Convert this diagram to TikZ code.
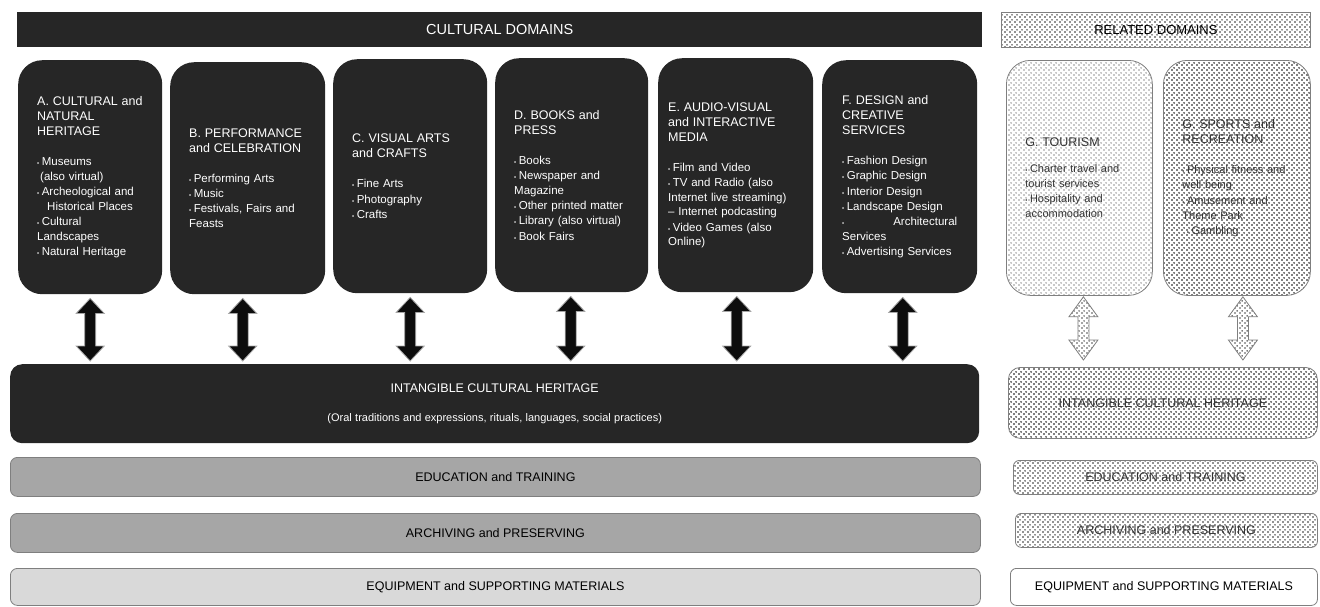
\documentclass[tikz,border=0pt]{standalone}
\usepackage{fontspec}
\setmainfont{Liberation Sans}
\usetikzlibrary{patterns,calc}
\definecolor{boxblack}{HTML}{262626}
\definecolor{arrblack}{HTML}{0D0D0D}
\definecolor{bargray}{HTML}{A6A6A6}
\definecolor{barlight}{HTML}{D9D9D9}
\definecolor{edgegray}{HTML}{7F7F7F}
\definecolor{reltext}{HTML}{333333}
\pgfdeclarepatternformonly{reldots}{\pgfpointorigin}{\pgfqpoint{4.5pt}{4.5pt}}{\pgfqpoint{4.5pt}{4.5pt}}{%
  \pgfpathcircle{\pgfqpoint{1.125pt}{1.125pt}}{0.9pt}%
  \pgfpathcircle{\pgfqpoint{3.375pt}{3.375pt}}{0.9pt}%
  \pgfusepath{fill}}
\newcommand\titlef{\fontsize{12.5}{15}\selectfont}
\newcommand\bodyf{\fontsize{11.5}{14.7}\selectfont}
\newcommand\relbodyf{\fontsize{11}{15}\selectfont}
\newcommand\barf{\fontsize{12.5}{15}\selectfont}
\newcommand\bul{\kern0.5pt{\fontsize{6}{6}\selectfont •}\kern2.5pt}
% #1 top tip, #2 bottom tip, #3 style, #4 head half width, #5 shaft half width, #6 head length
\newcommand\dblarr[6]{%
  \draw[#3] (#1) -- ++(#4,#6) -- ++({-(#4)+(#5)},0) -- ($(#2)+(#5,-#6)$)
    -- ++({(#4)-(#5)},0) -- (#2) -- ++(-#4,-#6) -- ++({(#4)-(#5)},0)
    -- ($(#1)+(-#5,#6)$) -- ++({-(#4)+(#5)},0) -- cycle;}
\begin{document}
\begin{tikzpicture}[x=1pt,y=-1pt,
  dom/.style={fill=boxblack, rounded corners=24pt, text=white, align=left,
    anchor=north west, inner ysep=0pt, font=\bodyf},
  rel/.style={preaction={fill=white}, pattern=reldots, draw=edgegray,
    line width=0.8pt, rounded corners=24pt, text=reltext, align=left,
    anchor=north west, inner ysep=0pt, font=\relbodyf},
  bar/.style={draw=edgegray, line width=0.8pt, rounded corners=7pt,
    anchor=north west, inner sep=0pt, font=\barf, text=black},
  relbar/.style={bar, preaction={fill=white}, pattern=reldots,
    pattern color=black!85, text=reltext},
  solidarr/.style={fill=arrblack, draw=gray!70, line width=0.8pt},
  hollowarr/.style={preaction={fill=white}, pattern=reldots,
    pattern color=black!70, draw=edgegray, line width=0.8pt}]
\useasboundingbox (0,0) rectangle (1320,606);

% headers
\node[fill=boxblack, anchor=north west, minimum width=965pt, minimum height=35pt,
  inner sep=0pt, text=white, font=\fontsize{14.5}{17}\selectfont] (cd) at (17,12) {CULTURAL DOMAINS};
\node[preaction={fill=white}, pattern=reldots, pattern color=black!85,
  draw=edgegray, line width=0.8pt, anchor=north west, minimum width=309pt,
  minimum height=35pt, inner sep=0pt, text=black,
  font=\fontsize{13}{15}\selectfont] (rd) at (1001,12) {RELATED DOMAINS};

% cultural domain boxes
\node[dom, text width=106pt, inner xsep=19pt, minimum height=234pt] (A) at (18,60)
 {{\titlef A. CULTURAL and\\NATURAL\\HERITAGE\par}\vspace{15pt}
  \bul Museums\\
  \hspace*{3pt}(also virtual)\\
  \bul Archeological and\\
  \hspace*{10pt}Historical Places\\
  \bul Cultural\\
  Landscapes\\
  \bul Natural Heritage\par};
\node[dom, text width=117pt, inner xsep=19pt, minimum height=232pt] (B) at (170,62)
 {{\titlef B. PERFORMANCE\\and CELEBRATION\par}\vspace{15pt}
  \bul Performing Arts\\
  \bul Music\\
  \bul Festivals, Fairs and\\
  Feasts\par};
\node[dom, text width=116pt, inner xsep=19pt, minimum height=234pt] (C) at (333,59)
 {{\titlef C. VISUAL ARTS\\and CRAFTS\par}\vspace{15pt}
  \bul Fine Arts\\
  \bul Photography\\
  \bul Crafts\par};
\node[dom, text width=115pt, inner xsep=19pt, minimum height=234pt] (D) at (495,58)
 {{\titlef D. BOOKS and\\PRESS\par}\vspace{15pt}
  \bul Books\\
  \bul Newspaper and\\
  Magazine\\
  \bul Other printed matter\\
  \bul Library (also virtual)\\
  \bul Book Fairs\par};
\node[dom, text width=135pt, inner xsep=10pt, minimum height=234pt] (E) at (658,58)
 {{\titlef E. AUDIO-VISUAL\\and INTERACTIVE\\MEDIA\par}\vspace{15pt}
  \bul Film and Video\\
  \bul TV and Radio (also\\
  Internet live streaming)\\
  – Internet podcasting\\
  \bul Video Games (also\\
  Online)\par};
\node[dom, text width=115pt, inner xsep=20pt, minimum height=233pt] (F) at (822,60)
 {{\titlef F. DESIGN and\\CREATIVE\\SERVICES\par}\vspace{15pt}
  \bul Fashion Design\\
  \bul Graphic Design\\
  \bul Interior Design\\
  \bul Landscape Design\\
  \bul\hfill Architectural\\
  Services\\
  \bul Advertising Services\par};

% intangible cultural heritage (left)
\node[fill=boxblack, rounded corners=12pt, anchor=north west, text=white,
  text width=949pt, inner xsep=10pt, inner ysep=0pt, minimum height=79pt,
  align=center] (ich) at (10,364)
 {{\titlef INTANGIBLE CULTURAL HERITAGE\par}\vspace{17pt}
  {\fontsize{11}{12}\selectfont (Oral traditions and expressions, rituals, languages, social practices)\par}};

% bars (left)
\node[bar, fill=bargray, minimum width=970pt, minimum height=39pt] (edu) at (10,457) {EDUCATION and TRAINING};
\node[bar, fill=bargray, minimum width=970pt, minimum height=39pt] (arch) at (10,513) {ARCHIVING and PRESERVING};
\node[bar, fill=barlight, minimum width=970pt, minimum height=37pt] (equip) at (10,568) {EQUIPMENT and SUPPORTING MATERIALS};

% related domain boxes
\node[rel, pattern color=gray!85, text width=108pt, inner xsep=19pt, minimum height=235pt] (T) at (1006,60)
 {{\titlef G. TOURISM\par}\vspace{10pt}
  \bul Charter travel and\\
  tourist services\\
  \bul Hospitality and\\
  accommodation\par};
\node[rel, pattern color=black, text width=109pt, inner xsep=19pt, minimum height=235pt] (S) at (1163,60)
 {{\titlef G. SPORTS and\\RECREATION\par}\vspace{15pt}
  \bul Physical fitness and\\
  well being\\
  \bul Amusement and\\
  Theme Park\\
  \hspace*{4pt}\bul Gambling\par};

% intangible cultural heritage (right) and bars (right)
\node[relbar, pattern color=black, rounded corners=12pt, minimum width=309pt, minimum height=71pt,
  font=\titlef] (ich2) at (1008,367) {INTANGIBLE CULTURAL HERITAGE};
\node[relbar, rounded corners=6pt, minimum width=304pt, minimum height=34pt] (edu2) at (1013,460) {EDUCATION and TRAINING};
\node[relbar, rounded corners=6pt, minimum width=302pt, minimum height=34pt] (arch2) at (1015,513) {ARCHIVING and PRESERVING};
\node[bar, fill=white, rounded corners=6pt, minimum width=307pt, minimum height=37pt] (equip2) at (1010,568) {EQUIPMENT and SUPPORTING MATERIALS};

% solid double arrows
\foreach \n/\dx in {A/0,B/-5,C/0,D/-1,E/1,F/3} {
  \coordinate (\n-t) at ($(\n.south)+(\dx,4)$);
  \coordinate (\n-b) at ($(\n.south |- ich.north)+(\dx,-3)$);
  \dblarr{\n-t}{\n-b}{solidarr}{14}{5.5}{15}
}
% hollow dotted double arrows
\foreach \n/\dx in {T/4,S/6} {
  \coordinate (\n-t) at ($(\n.south)+(\dx,1)$);
  \coordinate (\n-b) at ($(\n.south |- ich2.north)+(\dx,-7)$);
  \dblarr{\n-t}{\n-b}{hollowarr}{14.5}{5.5}{20}
}
\end{tikzpicture}
\end{document}
